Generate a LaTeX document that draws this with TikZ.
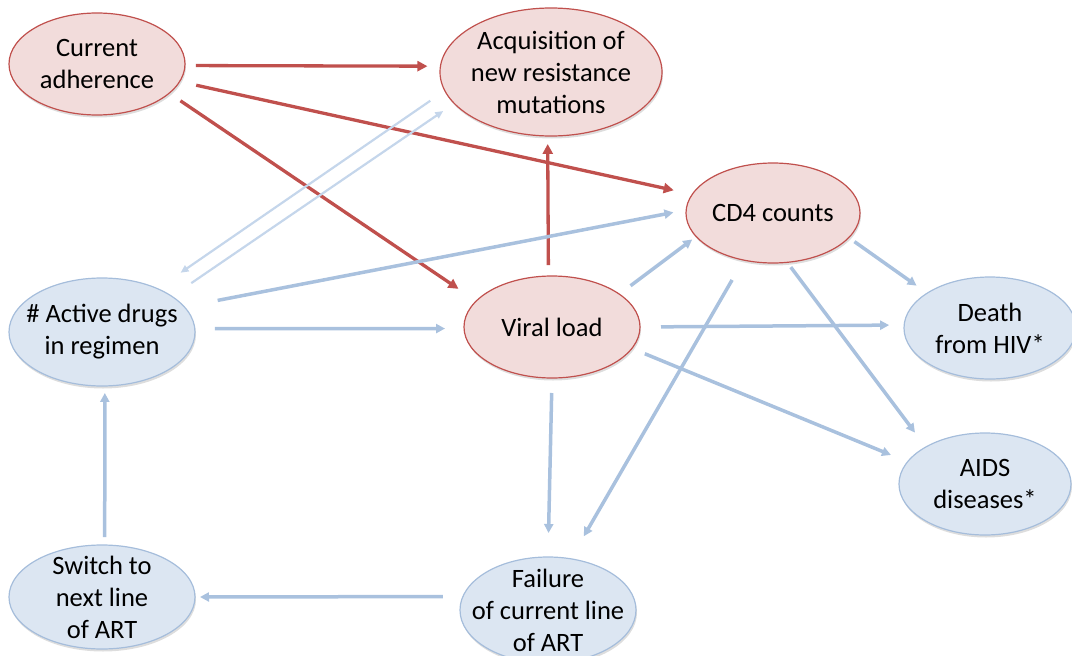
\documentclass[tikz,border=0pt]{standalone}
\usepackage{fontspec}
\setmainfont{Carlito}
\usetikzlibrary{arrows.meta,shapes.geometric,shadows}
\definecolor{rline}{HTML}{C0504D}
\definecolor{rfill}{HTML}{F2DCDB}
\definecolor{bline}{HTML}{A5BDDB}
\definecolor{bfill}{HTML}{DCE6F2}
\definecolor{barr}{HTML}{A9C1DE}
\definecolor{barrl}{HTML}{C5D6EB}
\tikzset{
 ell/.style={ellipse, inner sep=0pt, outer sep=0pt, line width=1.2pt,
   drop shadow={shadow xshift=1pt, shadow yshift=-2.5pt, opacity=0.22, fill=black!60}},
 redell/.style={ell, draw=rline, fill=rfill},
 blueell/.style={ell, draw=bline, fill=bfill},
 txt/.style={font=\fontsize{26.5}{32}\selectfont, align=center, text=black, inner sep=0pt},
 redarr/.style={draw=rline, line width=3.3pt, -{Triangle[length=10pt,width=10pt]}},
 bluearr/.style={draw=barr, line width=3.5pt, -{Triangle[length=9pt,width=9pt]}},
 lightarr/.style={draw=barrl, line width=2.2pt, -{Triangle[length=8pt,width=7pt]}},
}
\begin{document}
\begin{tikzpicture}[x=1pt,y=-1pt]
\useasboundingbox (0,0) rectangle (1072,656);
% nodes
\node[redell, minimum width=176pt, minimum height=102pt, label={[txt]center:Current\\adherence}] (ca) at (97,64) {};
\node[redell, minimum width=222pt, minimum height=128pt, label={[txt]center:Acquisition of\\new resistance\\mutations}] (acq) at (551,72) {};
\node[redell, minimum width=174pt, minimum height=100pt, label={[txt]center:CD4 counts}] (cd4) at (773,213) {};
\node[redell, minimum width=176pt, minimum height=102pt, label={[txt]center:Viral load}] (vl) at (552,327) {};
\node[blueell, minimum width=186pt, minimum height=108pt, label={[txt]center:\# Active drugs\\in regimen}] (ad) at (102,332) {};
\node[blueell, minimum width=172pt, minimum height=102pt, label={[txt]center:Death\\from HIV*}] (death) at (990,328) {};
\node[blueell, minimum width=172pt, minimum height=102pt, label={[txt]center:AIDS\\diseases*}] (aids) at (985,484) {};
\node[blueell, minimum width=186pt, minimum height=104pt, label={[txt]center:Switch to\\next line\\of ART}] (sw) at (102,597) {};
\node[blueell, minimum width=176pt, minimum height=106pt, label={[txt]center:Failure\\of current line\\of ART}] (fail) at (548,610) {};
% red connectors
\draw[redarr, shorten <=11pt, shorten >=13pt] (ca.-1.2) -- (acq.177.2);
\draw[redarr, shorten <=17pt, shorten >=19pt] (ca.-12.5) -- (cd4.167.6);
\draw[redarr, shorten <=13.6pt, shorten >=21.6pt] (ca.-22.6) -- (vl.161.7);
\draw[redarr, shorten <=11pt, shorten >=8pt] (vl.94.6) -- (acq.-93.2);
% blue connectors
\draw[lightarr, shorten <=17.7pt, shorten >=28pt] (acq.190.6) -- (ad.38.4);
\draw[lightarr, shorten <=23.5pt, shorten >=13.4pt] (ad.27.6) -- (acq.198.3);
\draw[bluearr, shorten <=34pt, shorten >=13pt] (ad.17.5) -- (cd4.178.9);
\draw[bluearr, shorten <=20pt, shorten >=19pt] (ad.2) -- (vl.-179.5);
\draw[bluearr, shorten <=14pt, shorten >=5pt] (vl.26.9) -- (cd4.197.8);
\draw[bluearr, shorten <=21pt, shorten >=15pt] (vl.0.5) -- (death.178.9);
\draw[bluearr, shorten <=14pt, shorten >=18pt] (vl.-15.6) -- (aids.164.1);
\draw[bluearr, shorten <=7pt, shorten >=13pt] (cd4.-18.2) -- (death.151.3);
\draw[bluearr, shorten <=6pt, shorten >=18pt] (cd4.-74.7) -- (aids.148.5);
\draw[bluearr, shorten <=23pt, shorten >=26pt] (cd4.238.5) -- (fail.66.9);
\draw[bluearr, shorten <=15pt, shorten >=24pt] (vl.-90) -- (fail.90.7);
\draw[bluearr, shorten <=20pt, shorten >=5pt] (fail.171.9) -- (sw.0.6);
\draw[bluearr, shorten <=8pt, shorten >=7pt] (sw.87) -- (ad.-87);
\end{tikzpicture}
\end{document}
